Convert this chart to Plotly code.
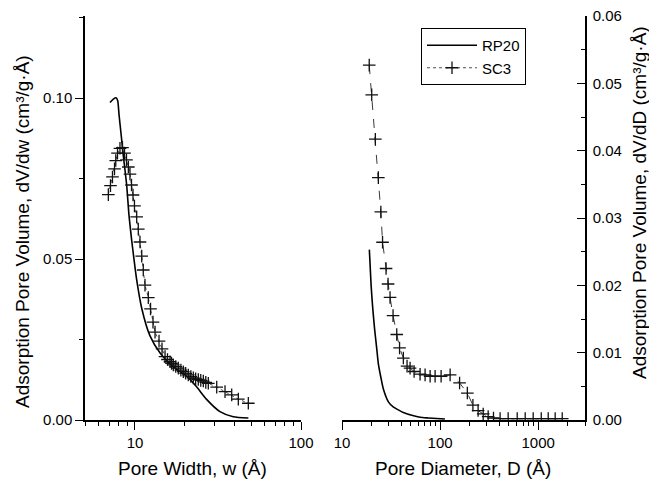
import plotly.graph_objects as go

# ---- Left panel: pore width (Å) ----
rp20_w = [7.07, 7.41, 7.69, 7.87, 8.01, 8.24, 8.5, 8.91, 9.2, 9.55, 9.86, 10.24, 10.97,
          12.3, 14.2, 17.0, 20.5, 23.5, 27.0, 32.5, 39.1, 48.2]
rp20_dvdw = [0.0986, 0.0997, 0.1001, 0.0992, 0.0950, 0.0890, 0.0823, 0.0730, 0.0637, 0.0559,
             0.0500, 0.0435, 0.0348, 0.0262, 0.0207, 0.0166, 0.0136, 0.0103, 0.0064, 0.0026,
             0.0010, 0.0006]

sc3_w = [6.91, 7.12, 7.32, 7.53, 7.66, 7.85, 8.12, 8.41, 8.65, 8.89, 9.12, 9.33, 9.53, 9.73,
         9.93, 10.24, 10.47, 10.72, 10.98, 11.22, 11.49, 12.03, 12.41, 12.84, 13.21, 13.96,
         14.55, 15.17, 15.7, 16.26, 16.6, 17.02, 17.6, 18.24, 18.9, 19.55, 20.2, 20.95, 21.7,
         22.46, 23.2, 24.07, 24.9, 25.8, 26.7, 27.65, 31.07, 34.86, 38.25, 41.93, 48.16]
sc3_dvdw = [0.0700, 0.0728, 0.0755, 0.0780, 0.0806, 0.0829, 0.0844, 0.0846, 0.0829, 0.0808,
            0.0786, 0.0764, 0.0730, 0.0699, 0.0665, 0.0631, 0.0593, 0.0553, 0.0509, 0.0466,
            0.0419, 0.0380, 0.0345, 0.0304, 0.0273, 0.0245, 0.0221, 0.0197, 0.0188, 0.0181,
            0.0176, 0.0171, 0.0166, 0.0161, 0.0155, 0.0150, 0.0145, 0.0140, 0.0135, 0.0131,
            0.0128, 0.0126, 0.0123, 0.0121, 0.0117, 0.0114, 0.0102, 0.0088, 0.0078, 0.0065,
            0.0052]

# ---- Right panel: pore diameter (Å) ----
rp20_d = [19.0, 19.8, 20.6, 21.5, 22.6, 23.5, 25.0, 26.4, 29.7, 33.5, 37.5, 42.2, 51.4, 62.5,
          75.9, 112]
rp20_dvdd = [0.0253, 0.0200, 0.0165, 0.0135, 0.0106, 0.0083, 0.0062, 0.0046, 0.0027, 0.0019,
             0.0015, 0.0011, 0.0007, 0.0004, 0.0003, 0.00015]

sc3_d = [18.95, 20.09, 21.87, 23.47, 24.89, 25.9, 28.12, 29.47, 30.89, 33.15, 36.15, 38.61,
         42.22, 46.05, 49.41, 54.3, 62.5, 70.3, 79.1, 88.9, 102.4, 126.5, 158, 189.5, 216, 244,
         275, 309, 350, 409, 494, 611, 737, 889, 1074, 1265, 1489, 1758]
sc3_dvdd = [0.0527, 0.0483, 0.0417, 0.0360, 0.0309, 0.0264, 0.0225, 0.0202, 0.0182, 0.0155,
            0.0127, 0.0107, 0.0092, 0.0080, 0.0077, 0.0072, 0.0068, 0.0067, 0.0065, 0.0065,
            0.0065, 0.0067, 0.0055, 0.0040, 0.0022, 0.0014, 0.0009, 0.0005, 0.0003, 0.0002,
            0.0002, 0.0002, 0.0002, 0.0002, 0.0002, 0.0002, 0.0002, 0.0002]

left_yticks = [0.0, 0.05, 0.10]
left_yticktext = ["0.00", "0.05", "0.10"]
right_yticks = [0.0, 0.01, 0.02, 0.03, 0.04, 0.05, 0.06]
right_yticktext = ["0.00", "0.01", "0.02", "0.03", "0.04", "0.05", "0.06"]
left_xticks = [10, 100]
right_xticks = [10, 100, 1000]

FONT = "Liberation Sans, Arial, sans-serif"
W, H = 649, 481

marker = dict(symbol="cross-thin", size=9, line=dict(width=1.3, color="#111"), color="#111")

fig = go.Figure()
fig.add_trace(go.Scatter(x=rp20_w, y=rp20_dvdw, mode="lines",
                         line=dict(color="black", width=1.6, shape="spline", smoothing=0.6),
                         name="RP20", xaxis="x", yaxis="y", showlegend=True))
fig.add_trace(go.Scatter(x=sc3_w, y=sc3_dvdw, mode="lines+markers",
                         line=dict(color="#222", width=0.8, dash="dot"), marker=marker,
                         name="SC3", xaxis="x", yaxis="y", showlegend=True))
fig.add_trace(go.Scatter(x=rp20_d, y=rp20_dvdd, mode="lines",
                         line=dict(color="black", width=1.6, shape="spline", smoothing=0.6),
                         name="RP20", xaxis="x2", yaxis="y2", showlegend=False))
fig.add_trace(go.Scatter(x=sc3_d, y=sc3_dvdd, mode="lines+markers",
                         line=dict(color="#222", width=0.9, dash="dash"), marker=marker,
                         name="SC3", xaxis="x2", yaxis="y2", showlegend=False))

ydom = [1 - 420 / H, 1 - 16 / H]
axis_common = dict(showline=True, linecolor="black", linewidth=1.5, showgrid=False, zeroline=False,
                   ticks="outside", ticklen=8, tickwidth=1.3, tickcolor="black",
                   tickfont=dict(family=FONT, size=15, color="black"))

minor_left_x = [5, 6, 7, 8, 9, 20, 30, 40, 50, 60, 70, 80, 90]
minor_right_x = [20, 30, 40, 50, 60, 70, 80, 90, 200, 300, 400, 500, 600, 700, 800, 900, 2000, 3000]

fig.update_layout(
    width=W, height=H,
    margin=dict(l=0, r=0, t=0, b=0),
    paper_bgcolor="white", plot_bgcolor="white",
    font=dict(family=FONT, color="black"),
    xaxis=dict(axis_common, type="log", domain=[85 / W, 301 / W], range=[0.69897, 2.0],
               anchor="y", tickvals=left_xticks, ticktext=["10", "100"], automargin=False,
               minor=dict(tickvals=minor_left_x, ticks="outside", ticklen=4, tickwidth=1.1,
                          tickcolor="black")),
    yaxis=dict(axis_common, domain=ydom, range=[0, 0.1255], anchor="x",
               tickvals=left_yticks, ticktext=left_yticktext, automargin=False,
               minor=dict(tickvals=[0.025, 0.075, 0.125], ticks="outside", ticklen=4,
                          tickwidth=1.1, tickcolor="black")),
    xaxis2=dict(axis_common, type="log", domain=[342 / W, 585 / W], range=[1.0, 3.477],
                anchor="y2", tickvals=right_xticks, ticktext=["10", "100", "1000"], automargin=False,
                minor=dict(tickvals=minor_right_x, ticks="outside", ticklen=4, tickwidth=1.1,
                           tickcolor="black")),
    yaxis2=dict(axis_common, domain=ydom, range=[0, 0.06], anchor="x2", side="right",
                ticks="inside", tickvals=right_yticks, ticktext=right_yticktext, automargin=False,
                ticklabelstandoff=3,
                minor=dict(tickvals=[0.005, 0.015, 0.025, 0.035, 0.045, 0.055], ticks="inside",
                           ticklen=4, tickwidth=1.1, tickcolor="black")),
    legend=dict(x=421 / W, y=1 - 28 / H, xanchor="left", yanchor="top",
                bordercolor="black", borderwidth=1, bgcolor="white",
                font=dict(family=FONT, size=15, color="black"), tracegroupgap=0,
                itemwidth=50),
    showlegend=True,
)

title_font = dict(family=FONT, size=19, color="black")
ann = dict(xref="paper", yref="paper", showarrow=False, xanchor="center", yanchor="middle",
           font=title_font)
fig.add_annotation(x=22 / W, y=1 - 232 / H, text="Adsorption Pore Volume, dV/dw (cm³/g·Å)",
                   textangle=-90, **ann)
fig.add_annotation(x=639 / W, y=1 - 203 / H, text="Adsorption Pore Volume, dV/dD (cm³/g·Å)",
                   textangle=-90, **ann)
fig.add_annotation(x=192 / W, y=1 - 468 / H, text="Pore Width, w (Å)", **ann)
fig.add_annotation(x=463 / W, y=1 - 468 / H, text="Pore Diameter, D (Å)", **ann)

fig.write_html("out.html")
